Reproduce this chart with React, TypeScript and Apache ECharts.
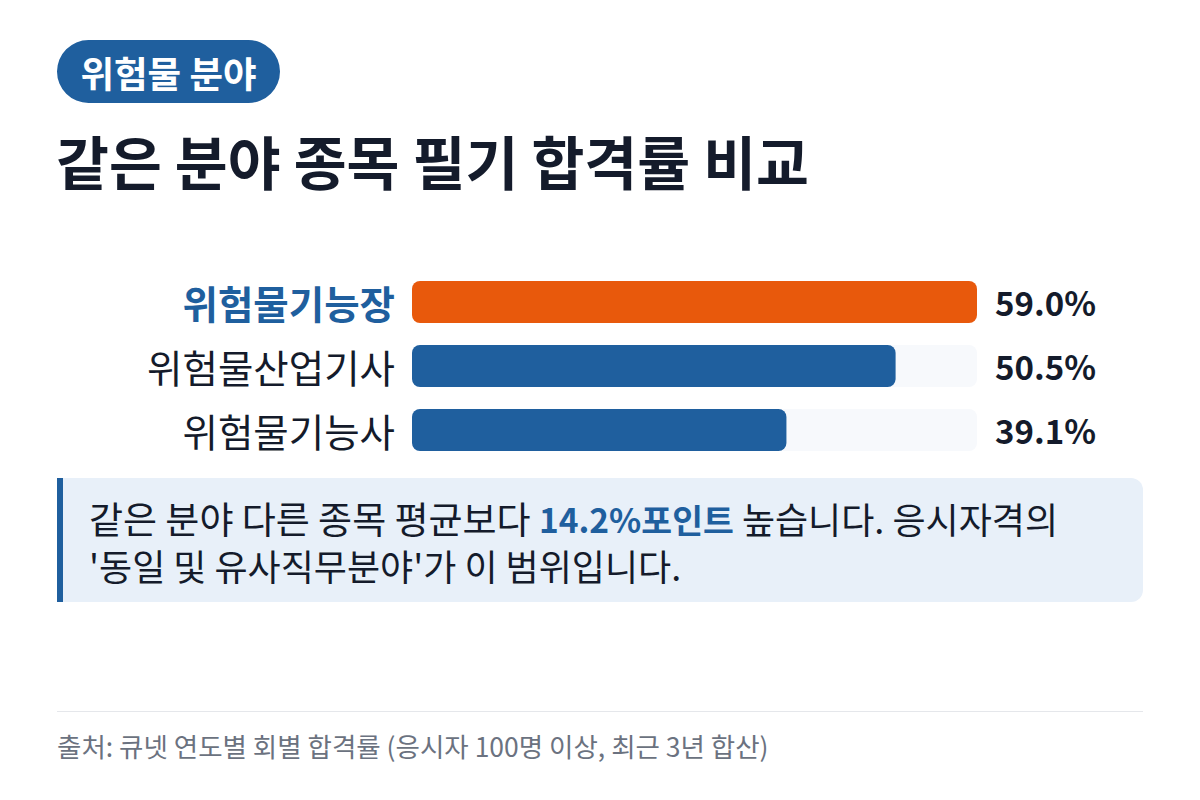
import React, { useEffect, useRef } from "react";
import * as echarts from "echarts";

const categories = ["위험물기능장", "위험물산업기사", "위험물기능사"];
const passRates = [59.0, 50.5, 39.1];
const highlightIndex = 0;
const badgeText = "위험물 분야";
const titleText = "같은 분야 종목 필기 합격률 비교";
const noteLine1Before = "같은 분야 다른 종목 평균보다 ";
const noteHighlight = "14.2%포인트";
const noteLine1After = " 높습니다. 응시자격의";
const noteLine2 = "'동일 및 유사직무분야'가 이 범위입니다.";
const sourceText = "출처: 큐넷 연도별 회별 합격률 (응시자 100명 이상, 최근 3년 합산)";

const FONT = "'Noto Sans CJK KR', 'Noto Sans', sans-serif";
const BLUE = "#1f5f9e";
const ORANGE = "#e8590c";
const DARK = "#141b2b";

export default function App() {
  const ref = useRef<HTMLDivElement>(null);
  useEffect(() => {
    document.body.style.margin = "0";
    const chart = echarts.init(ref.current!, null, { renderer: "svg" });
    const maxVal = Math.max(...passRates);
    chart.setOption({
      animation: false,
      backgroundColor: "#ffffff",
      textStyle: { fontFamily: FONT },
      grid: { left: 412, right: 223, top: 270, height: 192, containLabel: false },
      xAxis: { type: "value", min: 0, max: maxVal, show: false },
      yAxis: [
        {
          type: "category",
          data: categories,
          inverse: true,
          axisLine: { show: false },
          axisTick: { show: false },
          axisLabel: {
            margin: 17,
            formatter: (v: string, i: number) => (i === highlightIndex ? `{hl|${v}}` : `{n|${v}}`),
            rich: {
              hl: { fontFamily: FONT, fontSize: 38.5, fontWeight: "bold", color: BLUE },
              n: { fontFamily: FONT, fontSize: 38.5, fontWeight: "normal", color: DARK },
            },
          },
        },
        {
          type: "category",
          data: passRates.map((v) => v.toFixed(1) + "%"),
          inverse: true,
          position: "right",
          axisLine: { show: false },
          axisTick: { show: false },
          axisLabel: {
            margin: 18,
            align: "left",
            fontFamily: FONT,
            fontSize: 33,
            fontWeight: "bold",
            color: DARK,
          },
        },
      ],
      series: [
        {
          type: "bar",
          yAxisIndex: 0,
          barWidth: 42,
          data: passRates.map((v, i) => ({
            value: v,
            itemStyle: { color: i === highlightIndex ? ORANGE : BLUE, borderRadius: 8 },
          })),
          showBackground: true,
          backgroundStyle: { color: "#f7f9fc", borderRadius: 8 },
        },
      ],
      graphic: [
        {
          type: "rect",
          shape: { x: 57, y: 40, width: 223, height: 63, r: 31.5 },
          style: { fill: BLUE },
        },
        {
          type: "text",
          x: 168.5,
          y: 72,
          style: {
            text: badgeText,
            fill: "#ffffff",
            font: `bold 36.5px ${FONT}`,
            align: "center",
            verticalAlign: "middle",
          },
        },
        {
          type: "text",
          x: 56,
          y: 160,
          style: {
            text: titleText,
            fill: DARK,
            font: `bold 57.5px ${FONT}`,
            align: "left",
            verticalAlign: "middle",
          },
        },
        {
          type: "rect",
          shape: { x: 57, y: 478, width: 1086, height: 124, r: [0, 12, 12, 0] },
          style: { fill: "#e8f0f9" },
        },
        {
          type: "rect",
          shape: { x: 57, y: 478, width: 6, height: 124 },
          style: { fill: BLUE },
        },
        {
          type: "text",
          x: 89,
          y: 541.5,
          style: {
            text: `{p|${noteLine1Before}}{b|${noteHighlight}}{n|${noteLine1After}}\n{n|${noteLine2}}`,
            verticalAlign: "middle",
            rich: {
              p: { fontFamily: FONT, fontSize: 37, fill: DARK, lineHeight: 47 },
              n: { fontFamily: FONT, fontSize: 36, fill: DARK, lineHeight: 47 },
              b: { fontFamily: FONT, fontSize: 33.5, fontWeight: "bold", fill: BLUE, lineHeight: 47 },
            },
          },
        },
        {
          type: "line",
          shape: { x1: 57, y1: 711.5, x2: 1143, y2: 711.5 },
          style: { stroke: "#e5e7eb", lineWidth: 1 },
        },
        {
          type: "text",
          x: 57,
          y: 745,
          style: {
            text: sourceText,
            fill: "#6b7280",
            font: `26.5px ${FONT}`,
            verticalAlign: "middle",
          },
        },
      ],
    });
    return () => chart.dispose();
  }, []);
  return <div ref={ref} style={{ position: "fixed", left: 0, top: 0, width: 1200, height: 800 }} />;
}
